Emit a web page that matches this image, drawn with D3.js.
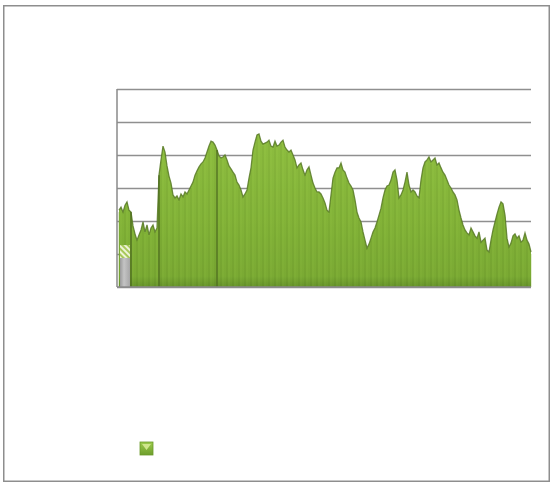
<!DOCTYPE html>
<html>
<head>
<meta charset="utf-8">
<script src="https://cdn.jsdelivr.net/npm/d3@7"></script>
<style>
  html, body { margin: 0; padding: 0; background: #ffffff; }
  svg { display: block; font-family: "Liberation Sans", Arial, sans-serif; }
</style>
</head>
<body>
<svg id="chart" width="551" height="483"></svg>
<script>
// ---- data ----
const yTicks = [0, 10, 20, 30, 40, 50, 60];
const seriesValues = [
  23.3, 24.2, 22.7, 24.8, 25.8, 23.3, 22.7, 18.5, 16.1, 14.2,
  15.8, 17.3, 19.7, 16.7, 18.8, 15.8, 17.9, 18.8, 16.7, 17.9,
  33.9, 38.5, 42.7, 40.9, 36.7, 33.6, 31.5, 27.9, 27.0, 27.6,
  26.4, 28.2, 27.3, 28.8, 28.2, 29.4, 30.6, 31.8, 33.9, 35.2,
  36.4, 37.3, 37.9, 39.1, 40.9, 42.7, 44.2, 43.9, 43.0, 41.5,
  39.7, 39.1, 39.4, 40.0, 38.5, 36.7, 35.8, 34.8, 33.9, 31.8,
  30.9, 29.4, 27.3, 28.2, 29.4, 33.0, 36.1, 41.5, 43.9, 46.1,
  46.4, 44.2, 43.3, 43.6, 43.9, 44.5, 42.7, 42.4, 44.2, 42.7,
  43.0, 43.9, 44.5, 42.4, 41.5, 40.9, 41.5, 40.0, 38.5, 36.1,
  37.0, 37.6, 35.5, 33.9, 35.5, 36.4, 33.9, 31.5, 30.0, 28.8,
  28.8, 28.2, 27.0, 25.5, 23.3, 22.7, 27.9, 33.0, 34.8, 36.1,
  36.1, 37.6, 35.5, 34.8, 33.0, 31.5, 30.6, 29.4, 26.4, 22.7,
  20.9, 19.7, 16.7, 14.2, 11.8, 13.0, 14.8, 16.7, 17.9, 19.7,
  21.8, 23.9, 27.0, 29.4, 30.6, 30.9, 32.4, 34.8, 35.5, 32.4,
  27.0, 27.9, 29.4, 31.8, 34.8, 30.9, 28.8, 29.4, 28.8, 27.6,
  27.0, 32.4, 36.1, 37.9, 38.5, 39.4, 37.9, 38.5, 39.1, 37.0,
  37.6, 36.1, 34.8, 33.9, 32.4, 30.9, 30.0, 28.8, 27.9, 26.4,
  23.3, 20.9, 18.8, 17.3, 16.4, 15.8, 17.9, 16.7, 15.5, 14.8,
  16.7, 13.6, 14.2, 14.8, 11.2, 10.6, 14.2, 17.3, 19.7, 22.1,
  24.2, 25.8, 25.2, 21.8, 14.8, 12.1, 13.3, 15.5, 16.1, 14.8,
  15.5, 13.6, 14.2, 16.4, 14.2, 13.0, 10.6
];
// second series: a single grey bar at the first category, hatched top part
const greyBase = [8.8];
const greyTop = [12.7];
// indices where darker separator strokes appear
const separatorIdx = [6, 20, 49];

// ---- layout ----
const W = 551, H = 483;
const plot = { left: 117, right: 531, top: 89, bottom: 287 };
const svg = d3.select("#chart");

const defs = svg.append("defs");
const g1 = defs.append("linearGradient").attr("id", "areaGrad")
  .attr("x1", 0).attr("y1", 0).attr("x2", 0).attr("y2", 1);
g1.append("stop").attr("offset", "0%").attr("stop-color", "#90bf42");
g1.append("stop").attr("offset", "55%").attr("stop-color", "#82b238");
g1.append("stop").attr("offset", "93%").attr("stop-color", "#77a632");
g1.append("stop").attr("offset", "100%").attr("stop-color", "#5e8a27");

const hatch = defs.append("pattern").attr("id", "hatch")
  .attr("patternUnits", "userSpaceOnUse").attr("width", 4).attr("height", 4)
  .attr("patternTransform", "rotate(-45)");
hatch.append("rect").attr("width", 4).attr("height", 4).attr("fill", "#eef4d8");
hatch.append("rect").attr("width", 2).attr("height", 4).attr("fill", "#a8c85a");

const greyGrad = defs.append("linearGradient").attr("id", "greyGrad")
  .attr("x1", 0).attr("y1", 0).attr("x2", 1).attr("y2", 0);
greyGrad.append("stop").attr("offset", "0%").attr("stop-color", "#9a9a9a");
greyGrad.append("stop").attr("offset", "40%").attr("stop-color", "#c4c4c4");
greyGrad.append("stop").attr("offset", "100%").attr("stop-color", "#a6a6a6");

const legGrad = defs.append("linearGradient").attr("id", "legGrad")
  .attr("x1", 0).attr("y1", 0).attr("x2", 0).attr("y2", 1);
legGrad.append("stop").attr("offset", "0%").attr("stop-color", "#9ccb4c");
legGrad.append("stop").attr("offset", "100%").attr("stop-color", "#6e9e2c");

// outer frame
svg.append("rect").attr("x", 3.75).attr("y", 5.75).attr("width", 545.5).attr("height", 475.5)
  .attr("fill", "#ffffff").attr("stroke", "#8e8e8e").attr("stroke-width", 1.5);

const x = d3.scaleLinear().domain([0, seriesValues.length - 1]).range([119, 531]);
const y = d3.scaleLinear().domain([0, 60]).range([plot.bottom, plot.top]);

// gridlines
const grid = svg.append("g").attr("transform", `translate(${plot.left},0)`)
  .call(d3.axisLeft(y).tickValues(yTicks).tickSize(-(plot.right - plot.left)).tickFormat(""));
grid.select(".domain").remove();
grid.selectAll(".tick line").attr("stroke", "#8f8f8f").attr("stroke-width", 1.5);

// area series
const area = d3.area().x((d, i) => x(i)).y0(y(0)).y1(d => y(d)).curve(d3.curveLinear);
const line = d3.line().x((d, i) => x(i)).y(d => y(d)).curve(d3.curveLinear);

svg.append("path").datum(seriesValues).attr("d", area).attr("fill", "url(#areaGrad)");

// vertical streak texture: thin bars per data point
svg.append("g").selectAll("rect").data(seriesValues).join("rect")
  .attr("x", (d, i) => x(i) - 0.5).attr("width", 1)
  .attr("y", d => y(d) + 2).attr("height", d => y(0) - y(d) - 2)
  .attr("fill", (d, i) => (i % 3 === 0 ? "#6f9d2e" : (i % 3 === 1 ? "#94c445" : "#86b53a")))
  .attr("opacity", 0.45);

svg.append("path").datum(seriesValues).attr("d", line)
  .attr("fill", "none").attr("stroke", "#587a26").attr("stroke-width", 1.3).attr("stroke-opacity", 0.85);

// separators
svg.append("g").selectAll("line").data(separatorIdx).join("line")
  .attr("x1", i => x(i)).attr("x2", i => x(i))
  .attr("y1", i => y(seriesValues[i])).attr("y2", y(0))
  .attr("stroke", "#4d6b20").attr("stroke-width", 1.3);

// grey series bar
svg.append("rect").attr("x", 120).attr("width", 10)
  .attr("y", y(greyBase[0])).attr("height", y(0) - y(greyBase[0]))
  .attr("fill", "url(#greyGrad)");
svg.append("rect").attr("x", 120).attr("width", 10)
  .attr("y", y(greyTop[0])).attr("height", y(greyBase[0]) - y(greyTop[0]))
  .attr("fill", "url(#hatch)");

// axes lines
svg.append("line").attr("x1", plot.left).attr("x2", plot.left)
  .attr("y1", plot.top).attr("y2", plot.bottom).attr("stroke", "#8a8a8a").attr("stroke-width", 1.5);
svg.append("line").attr("x1", plot.left).attr("x2", plot.right)
  .attr("y1", plot.bottom).attr("y2", plot.bottom).attr("stroke", "#8a8a8a").attr("stroke-width", 1.5);

// legend marker
const leg = svg.append("g").attr("transform", "translate(140,442)");
leg.append("rect").attr("width", 13).attr("height", 13).attr("fill", "url(#legGrad)")
  .attr("stroke", "#6a9a2a").attr("stroke-width", 0.8);
leg.append("path").attr("d", "M2,2 L11,2 L6.5,8 Z").attr("fill", "#cfe68c");
</script>
</body>
</html>
